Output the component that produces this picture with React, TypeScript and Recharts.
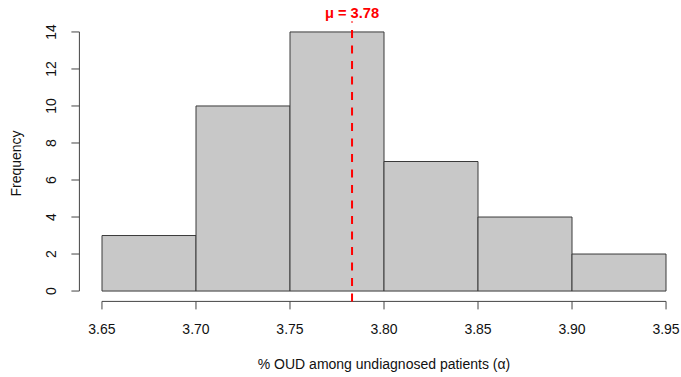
import { ComposedChart, Bar, XAxis, YAxis, ReferenceLine } from "recharts";

// histogram bins (left / right edges) and their counts
const BIN_LO = [3.65, 3.7, 3.75, 3.8, 3.85, 3.9];
const BIN_HI = [3.7, 3.75, 3.8, 3.85, 3.9, 3.95];
const COUNTS = [3, 10, 14, 7, 4, 2];

const X_TICKS = [3.65, 3.7, 3.75, 3.8, 3.85, 3.9, 3.95];
const Y_TICKS = [0, 2, 4, 6, 8, 10, 12, 14];

const MEAN = 3.783;
const MEAN_LABEL = "μ = 3.78";

// R-style 4% padding around the data range
const X_DOMAIN = [3.638, 3.962];
const Y_DOMAIN = [-0.56, 14.56];

const FONT = "'Liberation Sans', Arial, Helvetica, sans-serif";
const AXIS_COL = "#444";

const data = BIN_LO.map((lo, i) => ({
  bin: `${lo.toFixed(2)}-${BIN_HI[i].toFixed(2)}`,
  mid: (lo + BIN_HI[i]) / 2,
  count: COUNTS[i],
}));

function YTick({ x, y, payload }: any) {
  return (
    <text
      x={x}
      y={y}
      transform={`rotate(-90, ${x}, ${y})`}
      textAnchor="middle"
      fontSize={14}
      fontFamily={FONT}
      fill="#111"
    >
      {payload.value}
    </text>
  );
}

function YTitle({ viewBox }: any) {
  const x = viewBox.x + 21;
  const y = viewBox.y + viewBox.height / 2 + 2;
  return (
    <text x={x} y={y} transform={`rotate(-90, ${x}, ${y})`} textAnchor="middle"
      fontSize={14} fontFamily={FONT} fill="#111">
      Frequency
    </text>
  );
}

function XTitle({ viewBox }: any) {
  return (
    <text x={viewBox.x + viewBox.width / 2} y={369} textAnchor="middle"
      fontSize={14} fontFamily={FONT} fill="#111">
      % OUD among undiagnosed patients (α)
    </text>
  );
}

function MeanTitle({ viewBox }: any) {
  return (
    <text x={viewBox.x} y={18} textAnchor="middle"
      fontSize={14.7} fontWeight={700} fontFamily={FONT} fill="#FF0000">
      {MEAN_LABEL}
    </text>
  );
}

export default function App() {
  return (
    <div style={{ position: "absolute", left: 0, top: 0, width: 681, height: 377, overflow: "hidden", background: "#fff" }}>
      <ComposedChart
        width={690}
        height={377}
        data={data}
        margin={{ top: 21.6, right: 1.4, left: 0, bottom: 15.6 }}
        barCategoryGap={0}
        barGap={0}
      >
        <XAxis xAxisId="bins" dataKey="bin" type="category" hide height={0}
          padding={{ left: 22.6, right: 22.6 }} />
        <XAxis
          xAxisId="num"
          dataKey="mid"
          type="number"
          domain={X_DOMAIN}
          ticks={X_TICKS}
          allowDataOverflow
          interval={0}
          height={60}
          axisLine={false}
          tickSize={8}
          tickMargin={15}
          tickLine={{ stroke: AXIS_COL }}
          tick={{ fontSize: 14, fontFamily: FONT, fill: "#111" }}
          tickFormatter={(v: number) => v.toFixed(2)}
          label={{ content: <XTitle /> }}
        />
        <YAxis
          type="number"
          domain={Y_DOMAIN}
          ticks={Y_TICKS}
          allowDataOverflow
          interval={0}
          width={79.4}
          axisLine={false}
          tickSize={8}
          tickMargin={15.4}
          tickLine={{ stroke: AXIS_COL }}
          tick={<YTick />}
          label={{ content: <YTitle /> }}
        />
        <Bar xAxisId="bins" dataKey="count" fill="#C8C8C8" stroke="#3a3a3a" strokeWidth={1}
          isAnimationActive={false} />
        {/* R draws axis lines only between first and last tick */}
        <ReferenceLine xAxisId="num" ifOverflow="visible" stroke={AXIS_COL}
          segment={[{ x: X_TICKS[0], y: Y_DOMAIN[0] }, { x: X_TICKS[X_TICKS.length - 1], y: Y_DOMAIN[0] }]} />
        <ReferenceLine xAxisId="num" ifOverflow="visible" stroke={AXIS_COL}
          segment={[{ x: X_DOMAIN[0], y: Y_TICKS[0] }, { x: X_DOMAIN[0], y: Y_TICKS[Y_TICKS.length - 1] }]} />
        <ReferenceLine xAxisId="num" x={MEAN} stroke="#FF0000" strokeWidth={2}
          strokeDasharray="8 7.5" label={{ content: <MeanTitle /> }} />
      </ComposedChart>
    </div>
  );
}
